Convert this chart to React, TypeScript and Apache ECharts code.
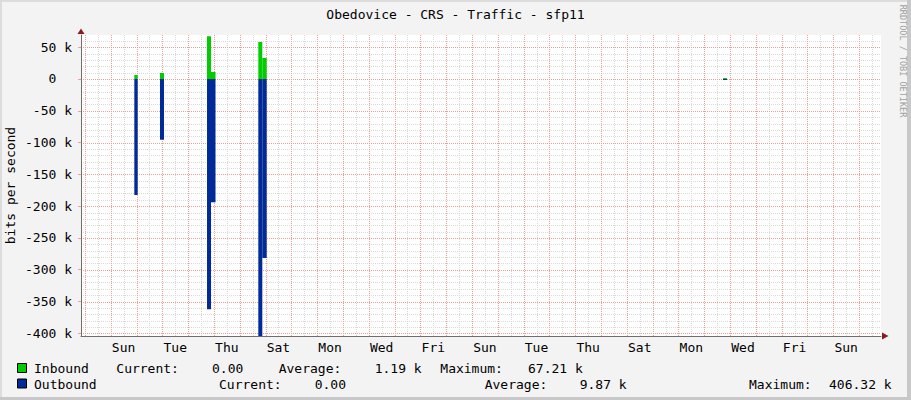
import React, { useEffect, useRef } from 'react';
import * as echarts from 'echarts';

// ---------- texts ----------
const TITLE = 'Obedovice - CRS - Traffic - sfp11';
const Y_AXIS_TITLE = 'bits per second';
const WATERMARK = 'RRDTOOL / TOBI OETIKER';

// ---------- time axis (days since the first Sunday 00:00) ----------
const VIEW_START = -1.151;
const VIEW_END = 29.849;
const DAY_NAMES = ['Sun', 'Mon', 'Tue', 'Wed', 'Thu', 'Fri', 'Sat'];
const LABEL_SHIFT = 0.5; // rrdtool centres the day label at noon

// ---------- value axis (bits per second) ----------
const Y_MIN = -404200;
const Y_MAX = 69200;
const Y_MAJOR = 50000;
const Y_MINOR = 10000;

// ---------- data: consolidated steps (start day, end day, value) ----------
const segStart = [0.915, 1.91, 3.732, 3.887, 5.72, 5.875, 23.727];
const segEnd = [1.046, 2.065, 3.887, 4.061, 5.875, 6.045, 23.882];
const inbound = [6300, 9400, 67210, 11000, 58200, 33000, 1500];
const outbound = [-182400, -95500, -362200, -193900, -406320, -281500, -1500];

// ---------- legend ----------
const legendNames = ['Inbound', 'Outbound'];
const legendColors = ['#00CC00', '#002A97'];
const currentValues = ['0.00', '0.00'];
const averageValues = ['1.19 k', '9.87 k'];
const maximumValues = ['67.21 k', '406.32 k'];

const FONT = '"DejaVu Sans Mono", monospace';
const MAJOR_GRID = '#F29C9C';
const MINOR_GRID = '#DADADA';
const AXIS_COLOR = '#6E6E6E';
const ARROW_COLOR = '#8B1A1A';
const BG = '#F3F3F3';

const GRID = { left: 81, top: 35, width: 800, height: 301 };

// grid line positions
const majorDays: number[] = [];
const minorDays: number[] = [];
for (let d = Math.ceil(VIEW_START); d <= VIEW_END; d += 1) majorDays.push(d);
for (let d = Math.ceil(VIEW_START - 0.5) + 0.5; d <= VIEW_END; d += 1) minorDays.push(d);
const majorVals: number[] = [];
const minorVals: number[] = [];
for (let v = Math.ceil(Y_MIN / Y_MINOR) * Y_MINOR; v <= Y_MAX; v += Y_MINOR) {
  if (v % Y_MAJOR === 0) majorVals.push(v);
  else minorVals.push(v);
}

function txt(text: string, x: number, y: number, opts: any = {}) {
  return {
    type: 'text',
    x,
    y,
    rotation: opts.rotation || 0,
    z: 10,
    style: {
      text,
      fill: opts.fill || '#000',
      fontFamily: FONT,
      fontSize: opts.size || 13,
      align: opts.align || 'left',
      textAlign: opts.align || 'left',
      verticalAlign: 'middle',
      textVerticalAlign: 'middle',
    },
  };
}

export default function App() {
  const ref = useRef<HTMLDivElement>(null);

  useEffect(() => {
    if (!ref.current) return;
    const chart = echarts.init(ref.current, undefined, { renderer: 'svg' });

    const inRows = segStart.map((s, i) => [s, segEnd[i], inbound[i]]);
    const outRows = segStart.map((s, i) => [s, segEnd[i], outbound[i]]);

    const makeRender = (color: string) => (params: any, api: any) => {
      const t0 = api.value(0);
      const t1 = api.value(1);
      const v = api.value(2);
      const a = api.coord([t0, v]);
      const b = api.coord([t1, 0]);
      const shape = echarts.graphic.clipRectByRect(
        {
          x: a[0],
          y: Math.min(a[1], b[1]),
          width: b[0] - a[0],
          height: Math.abs(b[1] - a[1]),
        },
        {
          x: params.coordSys.x,
          y: params.coordSys.y,
          width: params.coordSys.width,
          height: params.coordSys.height,
        }
      );
      if (!shape) return null;
      return { type: 'rect', shape, style: { fill: color } };
    };

    const makeVLine = (color: string) => (params: any, api: any) => {
      const t = api.value(0);
      const top = api.coord([t, Y_MAX]);
      const bot = api.coord([t, Y_MIN]);
      const x = Math.round(top[0]) + 0.5;
      return {
        type: 'line',
        silent: true,
        shape: { x1: x, y1: top[1], x2: x, y2: bot[1] },
        style: { stroke: color, lineWidth: 1, lineDash: [1, 1] },
      };
    };

    const makeHLine = (color: string) => (params: any, api: any) => {
      const v = api.value(1);
      const l = api.coord([VIEW_START, v]);
      const r = api.coord([VIEW_END, v]);
      const y = Math.round(l[1]) + 0.5;
      return {
        type: 'line',
        silent: true,
        shape: { x1: l[0], y1: y, x2: r[0], y2: y },
        style: { stroke: color, lineWidth: 1, lineDash: [1, 1] },
      };
    };

    const gridSeries = (name: string, render: any, data: number[][]) => ({
      name,
      type: 'custom',
      xAxisIndex: 0,
      yAxisIndex: 0,
      z: 1,
      silent: true,
      clip: false,
      encode: { x: 0, y: 1 },
      renderItem: render,
      data,
    });

    const rowY = [368.5, 384];
    const rowX = [
      [34, 116.3, 212, 278.7, 374.7, 440.3, 528],
      [34, 219, 314.7, 484.7, 579.7, 749, 829],
    ];

    const legendGraphics: any[] = [];
    legendNames.forEach((name, i) => {
      const y = rowY[i];
      const xs = rowX[i];
      legendGraphics.push({
        type: 'rect',
        shape: { x: 17.5, y: y - 5, width: 9, height: 9 },
        style: { fill: legendColors[i], stroke: '#000', lineWidth: 1 },
        z: 10,
      });
      legendGraphics.push(txt(name, xs[0], y));
      legendGraphics.push(txt('Current:', xs[1], y));
      legendGraphics.push(txt(currentValues[i], xs[2], y));
      legendGraphics.push(txt('Average:', xs[3], y));
      legendGraphics.push(txt(averageValues[i], xs[4], y));
      legendGraphics.push(txt('Maximum:', xs[5], y));
      legendGraphics.push(txt(maximumValues[i], xs[6], y));
    });

    const gl = GRID.left;
    const gt = GRID.top;
    const gr = GRID.left + GRID.width;
    const gb = GRID.top + GRID.height;

    const option: any = {
      animation: false,
      backgroundColor: BG,
      grid: {
        show: true,
        left: GRID.left,
        top: GRID.top,
        width: GRID.width,
        height: GRID.height,
        containLabel: false,
        outerBoundsMode: 'none',
        backgroundColor: '#FFFFFF',
        borderWidth: 0,
      },
      xAxis: [
        {
          // data axis
          type: 'value',
          position: 'bottom',
          min: VIEW_START,
          max: VIEW_END,
          z: 4,
          axisLine: { show: true, onZero: false, lineStyle: { color: AXIS_COLOR, width: 1 } },
          axisTick: { show: false },
          axisLabel: { show: false },
          splitLine: { show: false },
        },
        {
          // day labels, every 2 days, centred at noon
          type: 'value',
          position: 'bottom',
          min: VIEW_START - LABEL_SHIFT,
          max: VIEW_END - LABEL_SHIFT,
          minInterval: 2,
          maxInterval: 2,
          z: 4,
          axisLine: { show: false, onZero: false },
          axisTick: { show: false },
          splitLine: { show: false },
          axisLabel: {
            show: true,
            showMinLabel: false,
            showMaxLabel: false,
            margin: 5,
            color: '#000',
            fontFamily: FONT,
            fontSize: 13,
            formatter: (v: number) => DAY_NAMES[((Math.round(v) % 7) + 7) % 7],
          },
        },
      ],
      yAxis: [
        {
          type: 'value',
          position: 'left',
          min: Y_MIN,
          max: Y_MAX,
          minInterval: Y_MAJOR,
          maxInterval: Y_MAJOR,
          z: 4,
          axisLine: { show: true, onZero: false, lineStyle: { color: AXIS_COLOR, width: 1 } },
          axisTick: { show: true, length: 3, lineStyle: { color: MAJOR_GRID } },
          axisLabel: {
            show: true,
            showMinLabel: false,
            showMaxLabel: false,
            margin: 9,
            color: '#000',
            fontFamily: FONT,
            fontSize: 13,
            formatter: (v: number) => (v === 0 ? '0\u00a0\u00a0' : `${Math.round(v / 1000)} k`),
          },
          splitLine: { show: false },
        },
      ],
      series: [
        gridSeries('minor v', makeVLine(MINOR_GRID), minorDays.map((d) => [d, 0])),
        gridSeries('minor h', makeHLine(MINOR_GRID), minorVals.map((v) => [VIEW_START, v])),
        gridSeries('major v', makeVLine(MAJOR_GRID), majorDays.map((d) => [d, 0])),
        gridSeries('major h', makeHLine(MAJOR_GRID), majorVals.map((v) => [VIEW_START, v])),
        {
          name: legendNames[0],
          type: 'custom',
          xAxisIndex: 0,
          yAxisIndex: 0,
          z: 3,
          encode: { x: [0, 1], y: 2 },
          renderItem: makeRender(legendColors[0]),
          data: inRows,
        },
        {
          name: legendNames[1],
          type: 'custom',
          xAxisIndex: 0,
          yAxisIndex: 0,
          z: 3,
          encode: { x: [0, 1], y: 2 },
          renderItem: makeRender(legendColors[1]),
          data: outRows,
        },
      ],
      graphic: [
        // frame shading
        { type: 'rect', shape: { x: 0, y: 0, width: 911, height: 2 }, style: { fill: '#DCDCDC' }, z: 9 },
        { type: 'rect', shape: { x: 0, y: 0, width: 2, height: 400 }, style: { fill: '#DCDCDC' }, z: 9 },
        { type: 'rect', shape: { x: 907, y: 0, width: 4, height: 400 }, style: { fill: '#C8C8C8' }, z: 9 },
        { type: 'rect', shape: { x: 0, y: 397, width: 911, height: 3 }, style: { fill: '#C8C8C8' }, z: 9 },
        // axis arrows
        {
          type: 'polygon',
          shape: { points: [[gl - 3.5, gt - 1], [gl + 3.5, gt - 1], [gl, gt - 6.5]] },
          style: { fill: ARROW_COLOR },
          z: 10,
        },
        {
          type: 'polygon',
          shape: { points: [[gr + 1, gb - 3.5], [gr + 1, gb + 3.5], [gr + 7.5, gb]] },
          style: { fill: ARROW_COLOR },
          z: 10,
        },
        txt(TITLE, 455.5, 14, { align: 'center' }),
        txt(Y_AXIS_TITLE, 10.5, (gt + gb) / 2, { align: 'center', rotation: Math.PI / 2 }),
        txt(WATERMARK, 902.5, 61, { align: 'center', size: 8.5, fill: '#A0A0A0', rotation: -Math.PI / 2 }),
        ...legendGraphics,
      ],
    };

    chart.setOption(option);
    return () => chart.dispose();
  }, []);

  return (
    <div
      ref={ref}
      style={{ position: 'fixed', left: 0, top: 0, width: 911, height: 400 }}
    />
  );
}
